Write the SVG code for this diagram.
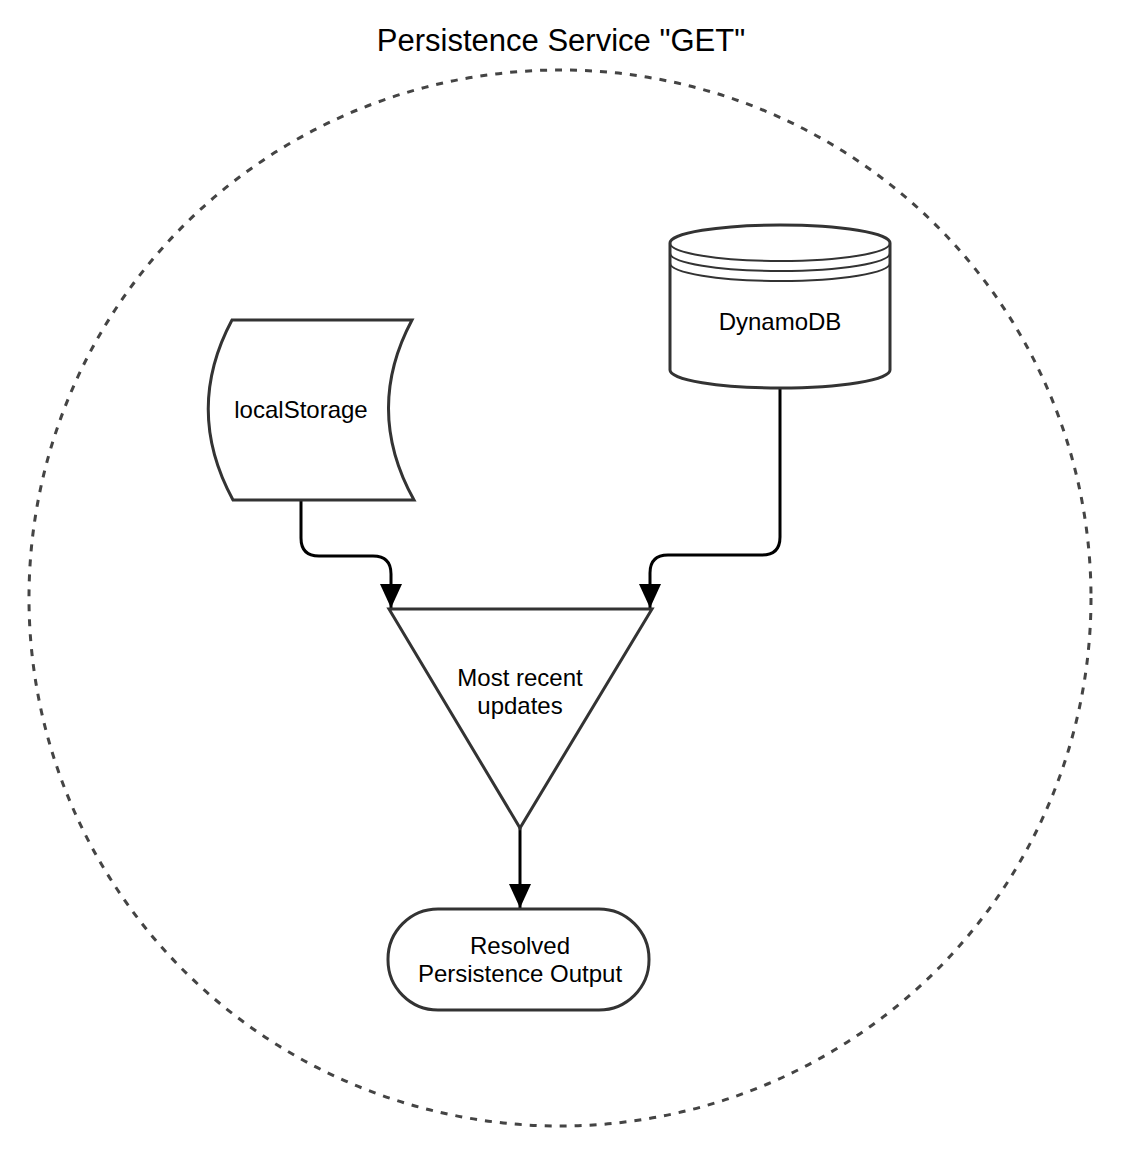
<svg xmlns="http://www.w3.org/2000/svg" width="1124" height="1160" viewBox="0 0 1124 1160">
<style>
.shape{fill:#fff;stroke:#333;stroke-width:3}
.line{fill:none;stroke:#333;stroke-width:2}
.conn{fill:none;stroke:#000;stroke-width:3}
.lbl{font-family:"Liberation Sans",Arial,sans-serif;font-size:24px;fill:#000;text-anchor:middle}
.title{font-family:"Liberation Sans",Arial,sans-serif;font-size:31px;fill:#000;text-anchor:middle}
</style>
<defs>
<marker id="arr" markerWidth="24" markerHeight="24" refX="24" refY="11" orient="auto" markerUnits="userSpaceOnUse">
<path d="M0,0 L24,11 L0,22 Z" fill="#000"/>
</marker>
</defs>
<rect width="1124" height="1160" fill="#fff"/>
<g id="boundary">
<ellipse cx="560" cy="598" rx="531" ry="528" fill="none" stroke="#444" stroke-width="3" stroke-dasharray="7 8"/>
<text class="title" x="561" y="51">Persistence Service "GET"</text>
</g>
<g id="connectors">
<path class="conn" d="M301,500 V538 Q301,556 319,556 H373 Q391,556 391,574 V608" marker-end="url(#arr)"/>
<path class="conn" d="M780,388 V537 Q780,555 762,555 H668 Q650,555 650,573 V608" marker-end="url(#arr)"/>
<path class="conn" d="M520,828 V908" marker-end="url(#arr)"/>
</g>
<g id="localStorage">
<path class="shape" d="M232,320 L412,320 Q364,410 414,500 L233,500 Q184,410 232,320 Z"/>
<text class="lbl" x="301" y="418">localStorage</text>
</g>
<g id="dynamodb">
<path class="shape" d="M670,243 A110,18 0 0 1 890,243 V370 A110,18 0 0 1 670,370 Z"/>
<path class="line" d="M670,243 A110,18 0 0 0 890,243"/>
<path class="line" d="M670,253 A110,18 0 0 0 890,253"/>
<path class="line" d="M670,263 A110,18 0 0 0 890,263"/>
<text class="lbl" x="780" y="330">DynamoDB</text>
</g>
<g id="most-recent">
<path class="shape" d="M389,609 L652,609 L520,828 Z"/>
<text class="lbl" x="520" y="686">Most recent</text>
<text class="lbl" x="520" y="714">updates</text>
</g>
<g id="resolved">
<rect class="shape" x="388" y="909" width="261" height="101" rx="50" ry="50"/>
<text class="lbl" x="520" y="954">Resolved</text>
<text class="lbl" x="520" y="982">Persistence Output</text>
</g>
</svg>
